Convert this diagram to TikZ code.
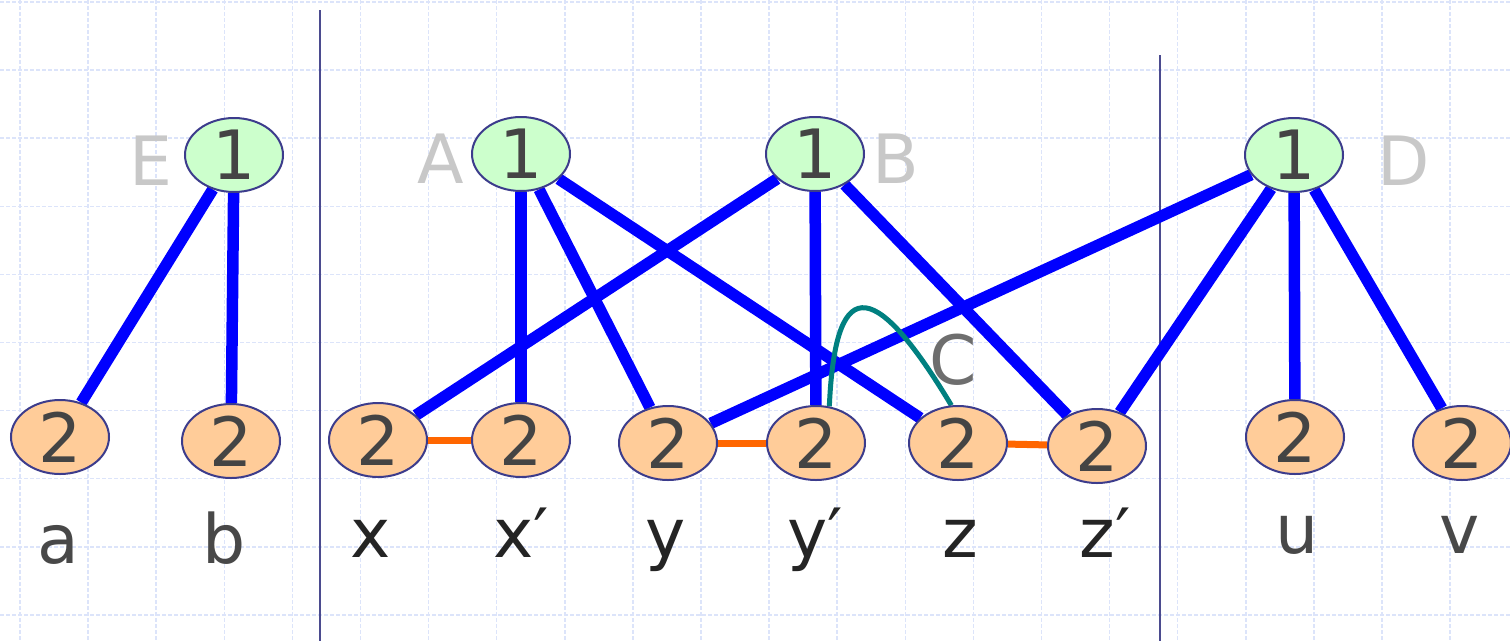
\documentclass[tikz,border=0pt]{standalone}
\usepackage{fontspec}
\setmainfont{DejaVu Sans}
\usetikzlibrary{shapes.geometric}
\pgfdeclarelayer{gridlayer}
\pgfdeclarelayer{edgelayer}
\pgfsetlayers{gridlayer,edgelayer,main}
\definecolor{gridc}{RGB}{220,228,250}
\definecolor{divc}{RGB}{75,75,143}
\definecolor{nodeborder}{RGB}{60,60,140}
\definecolor{topfill}{RGB}{204,255,204}
\definecolor{botfill}{RGB}{255,204,153}
\definecolor{digitc}{RGB}{68,68,68}
\definecolor{labdark}{RGB}{36,36,36}
\definecolor{labmid}{RGB}{72,72,72}
\definecolor{lightlab}{RGB}{200,200,200}
\definecolor{clab}{RGB}{110,110,110}
\definecolor{blueedge}{RGB}{0,0,255}
\definecolor{orangeedge}{RGB}{255,102,0}
\definecolor{tealedge}{RGB}{0,128,128}
\tikzset{
  bigfont/.style={font=\fontsize{68}{80}\selectfont},
  gridline/.style={draw=gridc, line width=1.5pt, dash pattern=on 4pt off 2pt},
  divider/.style={draw=divc, line width=2pt},
  topnode/.style={ellipse, draw=nodeborder, line width=2pt, fill=topfill,
    minimum width=98pt, minimum height=74pt, inner sep=0pt, bigfont, text=digitc},
  botnode/.style={ellipse, draw=nodeborder, line width=2pt, fill=botfill,
    minimum width=98pt, minimum height=74pt, inner sep=0pt, bigfont, text=digitc},
  grouplab/.style={bigfont, text=lightlab, anchor=base, inner sep=0pt},
  vlab/.style={bigfont, text=labdark, anchor=base, inner sep=0pt},
  vlabmid/.style={bigfont, text=labmid, anchor=base, inner sep=0pt},
  blueline/.style={draw=blueedge, line width=11.5pt},
  orangeline/.style={draw=orangeedge, line width=7pt},
  tealline/.style={draw=tealedge, line width=5pt},
}
\begin{document}
\begin{tikzpicture}[x=1pt,y=-1pt]
\useasboundingbox (0,0) rectangle (1510,641);
\begin{pgfonlayer}{gridlayer}
  \fill[white] (0,0) rectangle (1510,641);
  \foreach \i in {0,...,21} \draw[gridline] ({20+68.1*\i},0) -- ({20+68.1*\i},641);
  \foreach \j in {0,...,9} \draw[gridline] (0,{2+68.1*\j}) -- (1510,{2+68.1*\j});
  \coordinate (d1t) at (320,10);
  \coordinate (d1b) at (320,641);
  \coordinate (d2t) at (1160,55);
  \coordinate (d2b) at (1160,641);
  \draw[divider] (d1t) -- (d1b);
  \draw[divider] (d2t) -- (d2b);
\end{pgfonlayer}

% top nodes
\node[topnode] (E) at (234,155) {1};
\node[topnode] (A) at (521,154) {1};
\node[topnode] (B) at (815,154) {1};
\node[topnode] (D) at (1294,155) {1};

% bottom nodes
\node[botnode] (a) at (60,437) {2};
\node[botnode] (b) at (231,441) {2};
\node[botnode] (x) at (378,440) {2};
\node[botnode] (xp) at (521,440) {2};
\node[botnode] (y) at (668,443) {2};
\node[botnode] (yp) at (816,443) {2};
\node[botnode] (z) at (958,443) {2};
\node[botnode] (zp) at (1097,446) {2};
\node[botnode] (u) at (1295,437) {2};
\node[botnode] (v) at (1462,443) {2};

% group labels
\node[grouplab] (lE) at (151,185) {E};
\node[grouplab] (lA) at (441,183) {A};
\node[grouplab] (lB) at (896,183) {B};
\node[grouplab] (lD) at (1404,185) {D};
\node[bigfont, text=clab, anchor=base, inner sep=0pt] (lC) at (953,384) {C};

% vertex labels
\node[vlabmid] (ta) at (58,563) {a};
\node[vlabmid] (tb) at (224,563) {b};
\node[vlab] (tx) at (371,557) {x};
\node[vlab] (txp) at (521,557) {x′};
\node[vlab] (ty) at (666,557) {y};
\node[vlab] (typ) at (815,557) {y′};
\node[vlab] (tz) at (960,557) {z};
\node[vlab] (tzp) at (1105,557) {z′};
\node[vlabmid] (tu) at (1297,553) {u};
\node[vlabmid] (tv) at (1460,553) {v};

\begin{pgfonlayer}{edgelayer}
  \draw[blueline] (E) -- (a);
  \draw[blueline] (E) -- (b);
  \draw[blueline] (A) -- (xp);
  \draw[blueline] (A) -- (y);
  \draw[blueline] (A) -- (z);
  \draw[blueline] (B) -- (x);
  \draw[blueline] (B) -- (yp);
  \draw[blueline] (B) -- (zp);
  \draw[blueline] (D) -- (y);
  \draw[blueline] (D) -- (zp);
  \draw[blueline] (D) -- (u);
  \draw[blueline] (D) -- (v);
  \draw[orangeline] (x) -- (xp);
  \draw[orangeline] (y) -- (yp);
  \draw[orangeline] (z) -- (zp);
  \draw[tealline] (yp.70) .. controls (835,280) and (870,270) .. (z.100);
\end{pgfonlayer}
\end{tikzpicture}
\end{document}
